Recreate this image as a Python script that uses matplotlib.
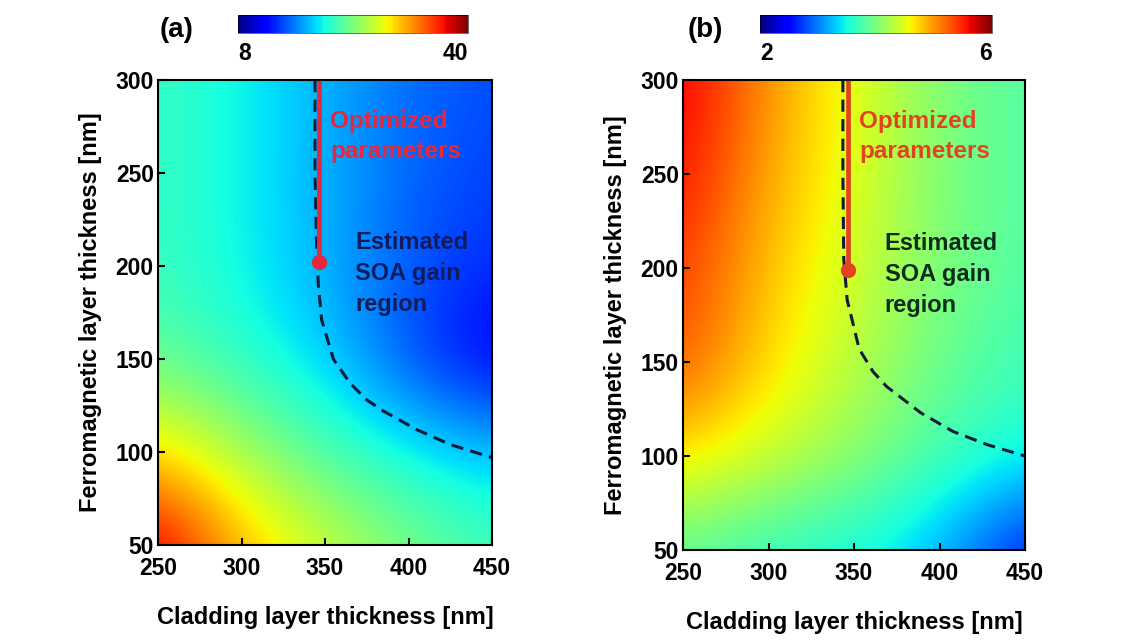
"""Two-panel map: SOA gain estimates vs cladding / ferromagnetic layer thickness."""

import matplotlib

matplotlib.use("Agg")
import matplotlib.pyplot as plt
import numpy as np

plt.rcParams["font.family"] = ["Liberation Sans", "DejaVu Sans"]
plt.rcParams["font.weight"] = "bold"

# grid nodes (nm)
cladding_nm = [250, 300, 350, 400, 450]
ferro_nm = [50, 100, 150, 200, 250, 300]

# panel (a) values, rows follow ferro_nm
map_a = [
    [38.4, 31.0, 27.2, 24.0, 21.8],
    [29.8, 25.6, 22.1, 19.8, 18.2],
    [23.0, 20.8, 18.6, 14.4, 11.2],
    [21.4, 19.8, 17.6, 14.8, 13.4],
    [21.4, 19.8, 17.6, 15.2, 14.0],
    [21.4, 19.8, 17.6, 15.4, 14.4],
]
range_a = (8, 40)

# panel (b)
map_b = [
    [3.8, 3.6, 3.5, 3.2, 2.5],
    [4.7, 4.4, 4.1, 3.75, 3.5],
    [5.3, 4.7, 4.3, 3.9, 3.7],
    [5.4, 4.8, 4.4, 4.0, 3.8],
    [5.6, 4.9, 4.5, 4.0, 3.8],
    [5.7, 5.0, 4.5, 4.0, 3.8],
]
range_b = (2, 6)

# boundary of the estimated SOA gain region (dashed)
edge_a_x = [344, 344, 345, 346, 348, 355, 365, 375, 385, 405, 425, 450]
edge_a_y = [300, 250, 210, 190, 171, 150, 137, 128, 122, 112, 104, 97]
edge_b_x = [343.5, 343.5, 344, 346, 349, 353, 361, 369, 389, 408, 428, 450]
edge_b_y = [300, 250, 205, 183, 172, 157, 145, 137, 123, 113, 106, 100]

# optimized parameter point (cladding, ferro)
opt_a = (346.5, 202)
opt_b = (346.5, 199)


def draw_panel(ax, cax, values, vrange, edge_x, edge_y, opt, red, text_color):
    half = 25  # half grid spacing, so nodes sit at pixel centres
    img = ax.imshow(np.array(values), origin="lower", cmap="jet", aspect="auto",
                    extent=[cladding_nm[0] - half, cladding_nm[-1] + half,
                            ferro_nm[0] - half, ferro_nm[-1] + half],
                    vmin=vrange[0], vmax=vrange[1],
                    interpolation="bicubic", interpolation_stage="data")
    ax.plot(edge_x, edge_y, color="#101c38", linewidth=2.2, dashes=(4.0, 2.4))
    ax.plot([opt[0], opt[0]], [opt[1], 300], color=red, linewidth=3.4, solid_capstyle="butt")
    ax.plot(opt[0], opt[1], "o", color=red, markersize=10)

    ax.text(353, 284, "Optimized\nparameters", color=red, fontsize=17.5, fontweight="bold",
            ha="left", va="top", linespacing=1.4)
    ax.text(368, 219, "Estimated\nSOA gain\nregion", color=text_color, fontsize=17,
            fontweight="bold", ha="left", va="top", linespacing=1.45)

    ax.set_xlim(250, 450)
    ax.set_ylim(50, 300)
    ax.set_xticks([250, 300, 350, 400, 450])
    ax.set_yticks([50, 100, 150, 200, 250, 300])
    ax.tick_params(direction="in", length=5, width=1.5, labelsize=16.5, color="black")
    ax.tick_params(axis="x", pad=8.5)
    ax.tick_params(axis="y", pad=3)
    for lab in ax.get_xticklabels() + ax.get_yticklabels():
        lab.set_fontweight("bold")
    for sp in ax.spines.values():
        sp.set_linewidth(1.5)
    ax.set_xlabel("Cladding layer thickness [nm]", fontsize=17, fontweight="bold", labelpad=19)
    ax.set_ylabel("Ferromagnetic layer thickness [nm]", fontsize=17, fontweight="bold", labelpad=10)

    cb = plt.colorbar(img, cax=cax, orientation="horizontal")
    cb.set_ticks([])
    cb.outline.set_linewidth(0.4)
    cax.text(0, -0.5, str(vrange[0]), transform=cax.transAxes, ha="left", va="top",
             fontsize=16.5, fontweight="bold")
    cax.text(1, -0.5, str(vrange[1]), transform=cax.transAxes, ha="right", va="top",
             fontsize=16.5, fontweight="bold")


def main() -> None:
    fig = plt.figure(figsize=(11.35, 6.4), dpi=100)
    W, H = 1135, 640

    def px_axes(x0, y0, x1, y1):
        return fig.add_axes([x0 / W, 1 - y1 / H, (x1 - x0) / W, (y1 - y0) / H])

    ax_a = px_axes(158, 80, 492, 545)
    cax_a = px_axes(238, 15, 468, 33)
    ax_b = px_axes(683, 80, 1025, 550)
    cax_b = px_axes(760, 15, 992, 33)

    draw_panel(ax_a, cax_a, map_a, range_a, edge_a_x, edge_a_y, opt_a, "#e6283e", "#121c5c")
    draw_panel(ax_b, cax_b, map_b, range_b, edge_b_x, edge_b_y, opt_b, "#e24422", "#0e2c1c")

    fig.text(177 / W, 1 - 30 / H, "(a)", fontsize=20, fontweight="bold", ha="center", va="center")
    fig.text(705 / W, 1 - 30 / H, "(b)", fontsize=20, fontweight="bold", ha="center", va="center")

    fig.savefig("out.png", dpi=100)


if __name__ == "__main__":
    main()
